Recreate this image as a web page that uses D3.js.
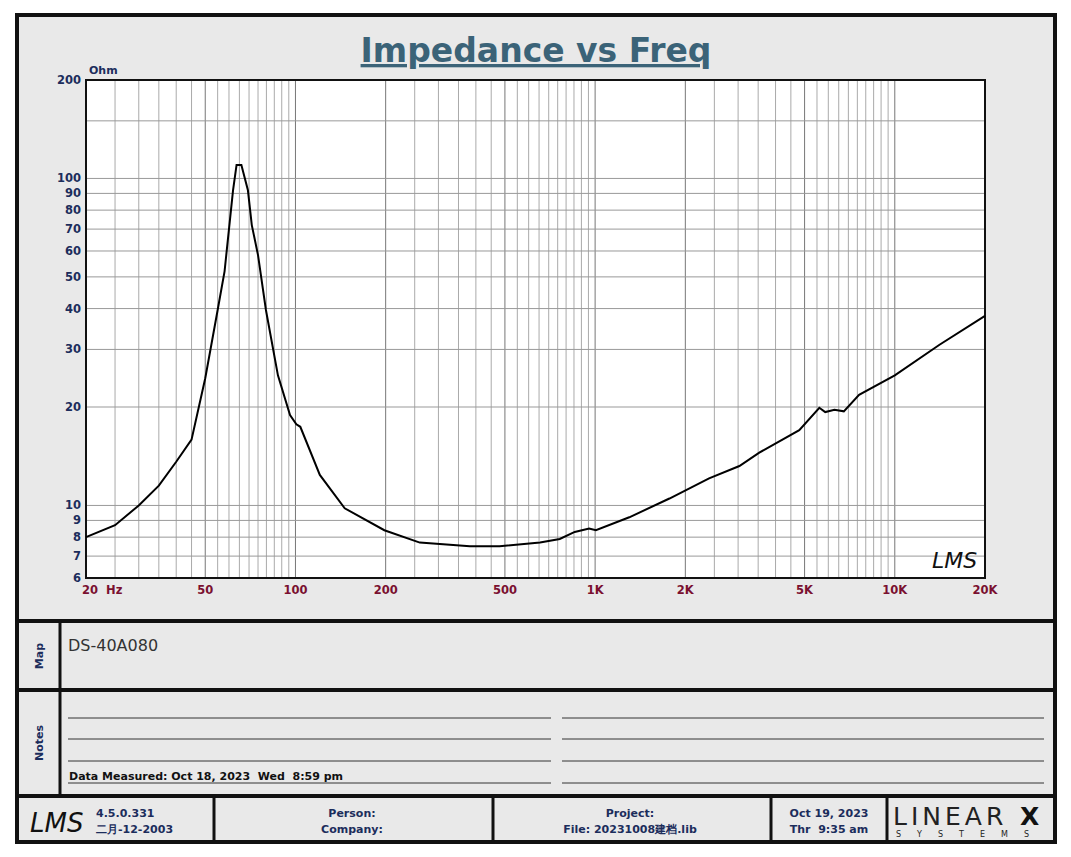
<!DOCTYPE html>
<html><head><meta charset="utf-8">
<script src="https://cdn.jsdelivr.net/npm/d3@7"></script>
<style>body{margin:0;background:#fff}svg{display:block}text{font-family:"DejaVu Sans",sans-serif}</style>
</head><body>
<script>
const freqs = [20,25,30,35,40,45,50,55,58,61.9,63.6,66,69.4,71.5,75,79.7,87.4,95.9,100.7,103.8,120.6,146,198,260,382,480,655,762,855,955,1006,1300,1770,2400,3030,3530,4800,5600,5860,6290,6760,7600,10000,14100,20000];
const ohms  = [8.0,8.7,10.0,11.5,13.6,15.9,24.5,39.6,52,92,110,110,92,72,58.3,39.6,25,18.9,17.7,17.4,12.4,9.8,8.4,7.7,7.5,7.5,7.7,7.9,8.3,8.5,8.4,9.2,10.5,12.1,13.2,14.5,17.0,19.9,19.3,19.6,19.4,21.8,25,31,38];
const yTicks = [200,100,90,80,70,60,50,40,30,20,10,9,8,7,6];
const xTicks = [[20,"20  Hz"],[50,"50"],[100,"100"],[200,"200"],[500,"500"],[1000,"1K"],[2000,"2K"],[5000,"5K"],[10000,"10K"],[20000,"20K"]];

const W = 1071, H = 857;
const svg = d3.select("body").append("svg").attr("width", W).attr("height", H);
const navy = "#1c2d5c", red = "#7a1030";

// frame
svg.append("rect").attr("x", 17).attr("y", 15).attr("width", 1038).attr("height", 827)
  .attr("fill", "#e9e9e9").attr("stroke", "#111").attr("stroke-width", 4);
[621, 690, 796].forEach(y => svg.append("line").attr("x1", 17).attr("x2", 1055).attr("y1", y).attr("y2", y)
  .attr("stroke", "#111").attr("stroke-width", 4));
svg.append("line").attr("x1", 60).attr("x2", 60).attr("y1", 621).attr("y2", 796).attr("stroke", "#111").attr("stroke-width", 3);
[214, 493, 771, 887].forEach(x => svg.append("line").attr("x1", x).attr("x2", x).attr("y1", 796).attr("y2", 842)
  .attr("stroke", "#111").attr("stroke-width", 3));

// title
svg.append("text").attr("x", 536).attr("y", 62).attr("text-anchor", "middle")
  .attr("font-size", 33).attr("font-weight", "bold").attr("fill", "#3b6378")
  .attr("text-decoration", "underline").text("Impedance vs Freq");

// plot
const x = d3.scaleLog().domain([20, 20000]).range([86, 985]);
const y = d3.scaleLog().domain([6, 200]).range([578, 80]);
const g = svg.append("g");
g.append("rect").attr("x", 86).attr("y", 80).attr("width", 899).attr("height", 498).attr("fill", "#fff");

const vGrid = [];
[10, 100, 1000, 10000].forEach(d => {
  for (let m = 2; m <= 10; m += 0.5) { const v = d * m; if (v > 20 && v < 20000) vGrid.push(v); }
});
g.selectAll(".vg").data(vGrid).join("line")
  .attr("x1", d => x(d)).attr("x2", d => x(d)).attr("y1", 80).attr("y2", 578)
  .attr("stroke", d => [50,100,200,500,1000,2000,5000,10000].includes(d) ? "#777" : "#aaa").attr("stroke-width", 1);
const hGrid = [7,8,9,10,20,30,40,50,60,70,80,90,100,150];
g.selectAll(".hg").data(hGrid).join("line")
  .attr("x1", 86).attr("x2", 985).attr("y1", d => y(d)).attr("y2", d => y(d))
  .attr("stroke", "#999").attr("stroke-width", 1);
g.append("rect").attr("x", 86).attr("y", 80).attr("width", 899).attr("height", 498)
  .attr("fill", "none").attr("stroke", "#111").attr("stroke-width", 2);

g.selectAll(".yt").data(yTicks).join("text")
  .attr("x", 81).attr("y", d => y(d) + 4).attr("text-anchor", "end")
  .attr("font-size", 11.5).attr("font-weight", "bold").attr("fill", navy).text(d => d);
g.append("text").attr("x", 89).attr("y", 74).attr("font-size", 11).attr("font-weight", "bold").attr("fill", navy).text("Ohm");
g.selectAll(".xt").data(xTicks).join("text")
  .attr("x", d => d[0] === 20 ? 82 : x(d[0])).attr("y", 594)
  .attr("text-anchor", d => d[0] === 20 ? "start" : "middle")
  .attr("font-size", 11.5).attr("font-weight", "bold").attr("fill", red).attr("xml:space", "preserve").text(d => d[1]);

const line = d3.line().x((d, i) => x(freqs[i])).y((d, i) => y(ohms[i]));
g.append("path").attr("d", line(ohms)).attr("fill", "none").attr("stroke", "#000").attr("stroke-width", 2);

g.append("text").attr("x", 932).attr("y", 568).attr("font-size", 22).attr("font-style", "italic")
  .attr("font-family", "DejaVu Serif").attr("fill", "#111").text("LMS");

// map / notes
svg.append("text").attr("transform", "translate(43,656) rotate(-90)").attr("text-anchor", "middle")
  .attr("font-size", 11).attr("font-weight", "bold").attr("fill", navy).text("Map");
svg.append("text").attr("transform", "translate(43,743) rotate(-90)").attr("text-anchor", "middle")
  .attr("font-size", 11).attr("font-weight", "bold").attr("fill", navy).text("Notes");
svg.append("text").attr("x", 68).attr("y", 651).attr("font-size", 16).attr("fill", "#333")
  .attr("font-family", "Open Sans").text("DS-40A080");
[718, 739, 761, 783].forEach(yy => {
  svg.append("line").attr("x1", 68).attr("x2", 551).attr("y1", yy).attr("y2", yy).attr("stroke", "#333");
  svg.append("line").attr("x1", 562).attr("x2", 1044).attr("y1", yy).attr("y2", yy).attr("stroke", "#333");
});
svg.append("text").attr("x", 69).attr("y", 780).attr("font-size", 11).attr("font-weight", "bold").attr("fill", "#111")
  .attr("xml:space", "preserve").text("Data Measured: Oct 18, 2023  Wed  8:59 pm");

// footer
const ft = (tx, ty, s, anchor, col, size) => svg.append("text").attr("x", tx).attr("y", ty).attr("text-anchor", anchor || "middle")
  .attr("font-size", size || 11).attr("font-weight", "bold").attr("fill", col || navy).attr("xml:space", "preserve").text(s);
svg.append("text").attr("x", 30).attr("y", 832).attr("font-size", 26).attr("font-style", "italic")
  .attr("font-family", "DejaVu Serif").attr("fill", "#111").text("LMS");
ft(96, 817, "4.5.0.331", "start");
ft(96, 833, "二月-12-2003", "start");
ft(352, 817, "Person:");
ft(352, 833, "Company:");
ft(630, 817, "Project:");
ft(630, 833, "File: 20231008建档.lib");
ft(829, 817, "Oct 19, 2023");
ft(829, 833, "Thr  9:35 am");
svg.append("text").attr("x", 893).attr("y", 825).attr("font-size", 25).attr("font-family", "DejaVu Serif")
  .attr("letter-spacing", 4).attr("fill", "#222").text("LINEAR");
svg.append("text").attr("x", 1020).attr("y", 825).attr("font-size", 25).attr("font-weight", "bold").attr("fill", "#111").text("X");
svg.append("text").attr("x", 896).attr("y", 837).attr("font-size", 8).attr("font-family", "DejaVu Serif")
  .attr("letter-spacing", 16).attr("fill", "#222").text("SYSTEMS");
</script>
</body></html>
